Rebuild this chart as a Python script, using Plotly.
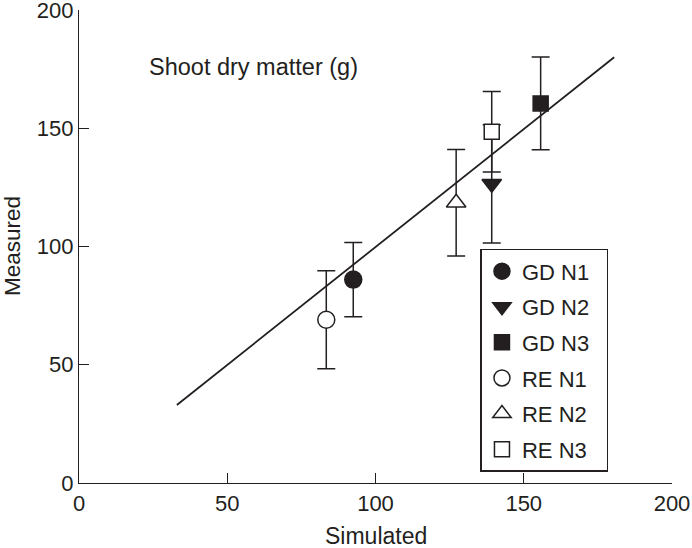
import plotly.graph_objects as go

# Data
series_names = ["GD N1", "GD N2", "GD N3", "RE N1", "RE N2", "RE N3"]
simulated = [92.5, 139.2, 155.7, 83.4, 127.2, 139.2]
measured = [86.0, 126.5, 160.5, 69.0, 118.5, 148.5]
errors = [15.7, 25.0, 19.6, 20.7, 22.5, 17.0]
symbols = ["circle", "triangle-down", "square", "circle", "triangle-up", "square"]
filled = [True, True, True, False, False, False]

line_x = [33.0, 180.5]
line_y = [33.0, 180.0]

tick_vals = [0, 50, 100, 150, 200]
ink = "#231f20"
font_family = "Liberation Sans, Arial, sans-serif"

fig = go.Figure()

fig.add_trace(go.Scatter(
    x=line_x, y=line_y, mode="lines",
    line=dict(color=ink, width=1.8), showlegend=False, hoverinfo="skip"))

for name, sx, my, err, sym, fl in zip(series_names, simulated, measured, errors, symbols, filled):
    size = 15 if sym == "square" else 17
    fig.add_trace(go.Scatter(
        x=[sx], y=[my], mode="markers", name=name + "&nbsp;&nbsp;", legendgroup=name,
        marker=dict(symbol=sym, size=size, color=ink if fl else "white",
                    line=dict(color=ink, width=1.5)),
        error_y=dict(type="data", array=[err], visible=True,
                     color=ink, thickness=1.5, width=9),
    ))

fig.add_annotation(x=23, y=176, xref="x", yref="y", text="Shoot dry matter (g)",
                   showarrow=False, xanchor="left", yanchor="middle",
                   font=dict(size=23.5, color=ink, family=font_family))

fig.add_annotation(x=0.5, y=-0.112, xref="paper", yref="paper", text="Simulated",
                   showarrow=False, xanchor="center", yanchor="middle",
                   font=dict(size=23, color=ink, family=font_family))
fig.add_annotation(x=-0.112, y=0.50, xref="paper", yref="paper", text="Measured",
                   showarrow=False, xanchor="center", yanchor="middle", textangle=-90,
                   font=dict(size=22.5, color=ink, family=font_family))

fig.update_layout(
    width=692, height=548,
    margin=dict(l=79, r=20, t=10, b=65),
    paper_bgcolor="white", plot_bgcolor="white",
    font=dict(family=font_family, size=22, color=ink),
    showlegend=True,
    legend=dict(x=0.677, y=0.495, xanchor="left", yanchor="top",
                bordercolor=ink, borderwidth=1.5, bgcolor="white",
                tracegroupgap=4, font=dict(size=22, color=ink)),
    xaxis=dict(range=[0, 200], tickvals=tick_vals, ticks="inside", ticklen=10,
               tickwidth=1.2, tickcolor=ink, showline=True, linecolor=ink,
               linewidth=1.2, showgrid=False, zeroline=False, automargin=False,
               tickfont=dict(size=22), ticklabeloverflow="allow"),
    yaxis=dict(range=[0, 200], tickvals=tick_vals, ticks="inside", ticklen=10,
               tickwidth=1.2, tickcolor=ink, showline=True, linecolor=ink,
               linewidth=1.2, showgrid=False, zeroline=False, automargin=False,
               tickfont=dict(size=22), ticklabeloverflow="allow"),
)

fig.write_html("out.html", config={"displayModeBar": False},
               post_script="document.body.style.margin='0';document.body.style.overflow='hidden';")
